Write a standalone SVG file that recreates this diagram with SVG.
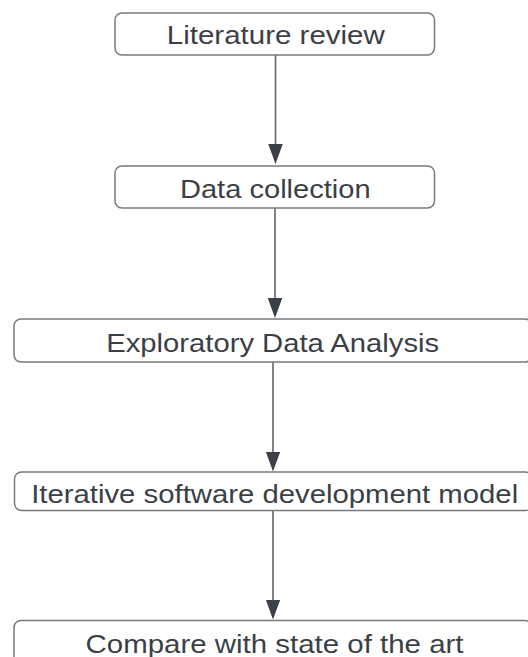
<svg xmlns="http://www.w3.org/2000/svg" width="528" height="657" viewBox="0 0 528 657">
  <style>
    .box { fill: #ffffff; stroke: #767a80; stroke-width: 1.5; }
    .label { font-family: "Liberation Sans", Arial, sans-serif; font-size: 26px; fill: #3b3f46; text-anchor: middle; }
    .link { stroke: #62666d; stroke-width: 1.6; fill: none; }
  </style>
  <defs>
    <marker id="head" markerUnits="userSpaceOnUse" markerWidth="22" markerHeight="16" refX="10" refY="7.25" orient="auto">
      <path d="M0,0 L20,7.25 L0,14.5 Z" fill="#3b4048"/>
    </marker>
  </defs>
  <rect width="528" height="657" fill="#ffffff"/>

  <g id="connectors">
    <line class="link" x1="275.5" y1="55" x2="275.5" y2="154" marker-end="url(#head)"/>
    <line class="link" x1="275" y1="208" x2="275" y2="308" marker-end="url(#head)"/>
    <line class="link" x1="273" y1="362" x2="273" y2="461.5" marker-end="url(#head)"/>
    <line class="link" x1="273" y1="510.5" x2="273" y2="609.5" marker-end="url(#head)"/>
  </g>

  <g id="literature-review">
    <rect class="box" x="115" y="13" width="319.5" height="42" rx="7"/>
    <text class="label" x="275.8" y="43.5" textLength="218" lengthAdjust="spacingAndGlyphs">Literature review</text>
  </g>

  <g id="data-collection">
    <rect class="box" x="115" y="166" width="319.5" height="42" rx="7"/>
    <text class="label" x="275.3" y="197.7" textLength="190.7" lengthAdjust="spacingAndGlyphs">Data collection</text>
  </g>

  <g id="exploratory-data-analysis">
    <rect class="box" x="14" y="319" width="518" height="43" rx="7"/>
    <text class="label" x="272.7" y="351.6" textLength="333" lengthAdjust="spacingAndGlyphs">Exploratory Data Analysis</text>
  </g>

  <g id="iterative-development">
    <rect class="box" x="14.5" y="472" width="518" height="38.5" rx="7"/>
    <text class="label" x="274.7" y="502.6" textLength="487" lengthAdjust="spacingAndGlyphs">Iterative software development model</text>
  </g>

  <g id="state-of-the-art">
    <rect class="box" x="14" y="620.5" width="518" height="50" rx="7"/>
    <text class="label" x="274.5" y="652.8" textLength="378" lengthAdjust="spacingAndGlyphs">Compare with state of the art</text>
  </g>
</svg>
